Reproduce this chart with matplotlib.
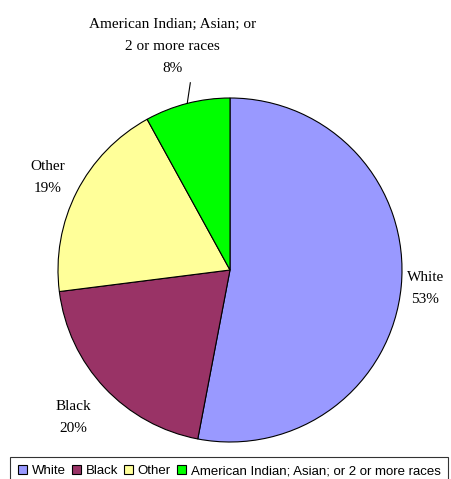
"""Pie chart of enrollment by race."""
import matplotlib.pyplot as plt
import numpy as np
from matplotlib.patches import Patch

categories = ["White", "Black", "Other", "American Indian; Asian; or 2 or more races"]
slice_labels = ["White", "Black", "Other", "American Indian; Asian; or\n2 or more races"]
shares = [53, 20, 19, 8]
colors = ["#9999FF", "#993366", "#FFFF99", "#00FF00"]
label_dist = [1.14, 1.25, 1.19, 1.34]

W, H = 451, 479
fig = plt.figure(figsize=(W / 100, H / 100), dpi=100)
fig.patch.set_facecolor("white")

# pie centre (230, 270) px from top-left, radius ~172 px
cx, cy, r = 230, H - 270, 172
ax = fig.add_axes([(cx - r) / W, (cy - r) / H, 2 * r / W, 2 * r / H])

wedges, _ = ax.pie(
    shares,
    colors=colors,
    startangle=90,
    counterclock=False,
    radius=1,
    wedgeprops=dict(edgecolor="black", linewidth=0.8),
)
ax.set_xlim(-1, 1)
ax.set_ylim(-1, 1)
ax.axis("off")

serif = ["Liberation Serif", "DejaVu Serif"]
for w, lab, val, d in zip(wedges, slice_labels, shares, label_dist):
    mid = np.deg2rad((w.theta1 + w.theta2) / 2)
    x, y = d * np.cos(mid), d * np.sin(mid)
    ax.text(x, y, f"{lab}\n{val}%", ha="center", va="center", fontsize=11,
            family=serif, linespacing=1.9, clip_on=False)

# leader line for the small slice
w = wedges[3]
mid = np.deg2rad((w.theta1 + w.theta2) / 2)
x0, y0 = np.cos(mid), np.sin(mid)
ax.plot([x0, x0 + 0.018], [y0, y0 + 0.12], color="black", lw=0.8, clip_on=False)

handles = [Patch(facecolor=c, edgecolor="black", linewidth=0.8) for c in colors]
leg = fig.legend(
    handles, categories, loc="upper left", bbox_to_anchor=(10 / W, 1 - 457 / H),
    ncol=4, frameon=True, fancybox=False, edgecolor="black",
    handlelength=0.7, handleheight=0.7, handletextpad=0.35, columnspacing=0.45,
    borderpad=0.6, borderaxespad=0,
    prop={"family": ["Liberation Sans", "DejaVu Sans"], "size": 9.5},
)
leg.get_frame().set_linewidth(0.8)

fig.savefig("out.png", dpi=100)
